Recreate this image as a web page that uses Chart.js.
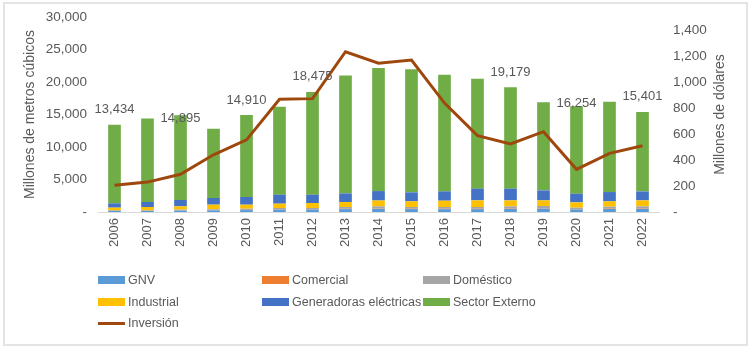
<!DOCTYPE html>
<html>
<head>
<meta charset="utf-8">
<script src="https://cdn.jsdelivr.net/npm/chart.js@4/dist/chart.umd.min.js"></script>
<style>
  html, body { margin: 0; padding: 0; background: #fff; }
  .frame { position: absolute; left: 3px; top: 2px; width: 741px; height: 340px; border: 2px solid #e4e4e4; }
  .wrap { position: absolute; left: 0; top: 0; width: 750px; height: 350px; }
  #legend { position: absolute; left: 0; top: 0; width: 750px; height: 350px; font-family: "Liberation Sans", Arial, sans-serif; font-size: 12.5px; color: #595959; }
  .item { position: absolute; height: 16px; line-height: 16px; white-space: nowrap; }
  .sw { position: absolute; left: 0; top: 4px; width: 27px; height: 8px; }
  .sw.line { top: 7px; height: 3px; }
  .item span { position: absolute; left: 30px; top: 0; }
</style>
</head>
<body>
<div class="frame"></div>
<div class="wrap"><canvas id="chart" width="750" height="350"></canvas></div>
<div id="legend"></div>
<script>
// years on the x axis
var years = ['2006', '2007', '2008', '2009', '2010', '2011', '2012', '2013', '2014',
             '2015', '2016', '2017', '2018', '2019', '2020', '2021', '2022'];

// consumption by sector, millions of cubic metres
var gnv        = [150, 160, 220, 250, 300, 360, 370, 440, 480, 450, 440, 440, 480, 520, 380, 460, 480];
var comercial  = [20, 20, 25, 30, 35, 40, 40, 50, 55, 55, 60, 60, 65, 70, 50, 60, 65];
var domestico  = [90, 80, 115, 130, 175, 215, 205, 280, 335, 265, 270, 270, 325, 330, 235, 300, 325];
var industrial = [410, 510, 510, 720, 615, 665, 770, 770, 900, 870, 970, 1025, 920, 870, 820, 820, 920];
var generadoras = [670, 770, 975, 1025, 1180, 1385, 1280, 1330, 1450, 1385, 1430, 1800, 1800, 1540, 1330, 1430, 1385];
var sectorExterno = [12094, 12860, 13050, 10645, 12605, 13535, 15810, 18130, 18930, 18925, 17930, 16905, 15589, 13570, 13439, 13900, 12226];

// investment, millions of dollars (right axis)
var inversion = [205, 230, 290, 440, 555, 867, 872, 1233, 1144, 1169, 838, 587, 523, 618, 328, 451, 510];

// years that carry a total label
var labeledYears = ['2006', '2008', '2010', '2012', '2018', '2020', '2022'];

var textColor = '#595959';
var fontFamily = '"Liberation Sans", Arial, sans-serif';

// vertical shift of each total label relative to the bar top (px)
var labelShift = { '2006': -15, '2008': 3, '2010': -15, '2012': -15, '2018': -15, '2020': -3, '2022': -15 };

function fmt(v) {
    return v === 0 ? '-' : v.toLocaleString('en-US');
}

var totalLabels = {
    id: 'totalLabels',
    afterDatasetsDraw: function (chart) {
        var ctx = chart.ctx;
        var x = chart.scales.x, y = chart.scales.y;
        ctx.save();
        ctx.font = '13px ' + fontFamily;
        ctx.fillStyle = textColor;
        ctx.textAlign = 'center';
        ctx.textBaseline = 'middle';
        labeledYears.forEach(function (yr) {
            var i = years.indexOf(yr);
            var total = 0;
            chart.data.datasets.forEach(function (ds) {
                if (ds.type !== 'line') total += ds.data[i];
            });
            ctx.fillText(fmt(total), x.getPixelForValue(i), y.getPixelForValue(total) + labelShift[yr]);
        });

        // right axis title, reading upwards like the left one
        var area = chart.chartArea;
        ctx.font = '14px ' + fontFamily;
        ctx.translate(720, (area.top + area.bottom) / 2);
        ctx.rotate(-Math.PI / 2);
        ctx.fillText('Millones de dólares', 0, 0);
        ctx.restore();
    }
};

var bar = function (label, data, color) {
    return { type: 'bar', label: label, data: data, backgroundColor: color, yAxisID: 'y', order: 1,
             categoryPercentage: 0.8, barPercentage: 0.48 };
};

var chart = new Chart(document.getElementById('chart'), {
    data: {
        labels: years,
        datasets: [
            bar('GNV', gnv, '#5B9BD5'),
            bar('Comercial', comercial, '#ED7D31'),
            bar('Doméstico', domestico, '#A5A5A5'),
            bar('Industrial', industrial, '#FFC000'),
            bar('Generadoras eléctricas', generadoras, '#4472C4'),
            bar('Sector Externo', sectorExterno, '#70AD47'),
            {
                type: 'line', label: 'Inversión', data: inversion, yAxisID: 'y1', order: 0,
                borderColor: '#9E480E', borderWidth: 3, pointRadius: 0, tension: 0, fill: false
            }
        ]
    },
    options: {
        responsive: false,
        animation: false,
        layout: { padding: { top: 17, left: 18, right: 18, bottom: 98 } },
        plugins: { legend: { display: false }, tooltip: { enabled: false } },
        scales: {
            x: {
                stacked: true,
                grid: { display: false, drawTicks: false },
                border: { color: '#d9d9d9', width: 1 },
                ticks: { color: textColor, font: { family: fontFamily, size: 13 }, minRotation: 90, maxRotation: 90, padding: 6 },
                afterFit: function (s) { s.height = 40; }
            },
            y: {
                stacked: true,
                position: 'left',
                min: 0, max: 30000,
                grid: { display: false },
                border: { display: false },
                ticks: { stepSize: 5000, color: textColor, font: { family: fontFamily, size: 13.5 }, padding: 3, callback: fmt },
                title: { display: true, text: 'Millones de metros cúbicos', color: textColor, font: { family: fontFamily, size: 14 } },
                afterFit: function (s) { s.width = 80; }
            },
            y1: {
                position: 'right',
                min: 0, max: 1500,
                bounds: 'data',
                grid: { display: false },
                border: { display: false },
                ticks: { stepSize: 200, color: textColor, font: { family: fontFamily, size: 13.5 }, padding: 6, callback: fmt },
                afterBuildTicks: function (s) {
                    s.ticks = s.ticks.filter(function (t) { return t.value <= 1400; });
                },
                afterFit: function (s) { s.width = 73; }
            }
        }
    },
    plugins: [totalLabels]
});

// legend in three columns, like the original
var legend = document.getElementById('legend');
var cols = [98, 262, 423];
var rows = [272, 294, 315];
chart.data.datasets.forEach(function (ds, i) {
    var item = document.createElement('div');
    item.className = 'item';
    item.style.left = cols[i % 3] + 'px';
    item.style.top = rows[Math.floor(i / 3)] + 'px';
    var sw = document.createElement('div');
    sw.className = ds.type === 'line' ? 'sw line' : 'sw';
    sw.style.background = ds.type === 'line' ? ds.borderColor : ds.backgroundColor;
    var txt = document.createElement('span');
    txt.textContent = ds.label;
    item.appendChild(sw);
    item.appendChild(txt);
    legend.appendChild(item);
});
</script>
</body>
</html>
